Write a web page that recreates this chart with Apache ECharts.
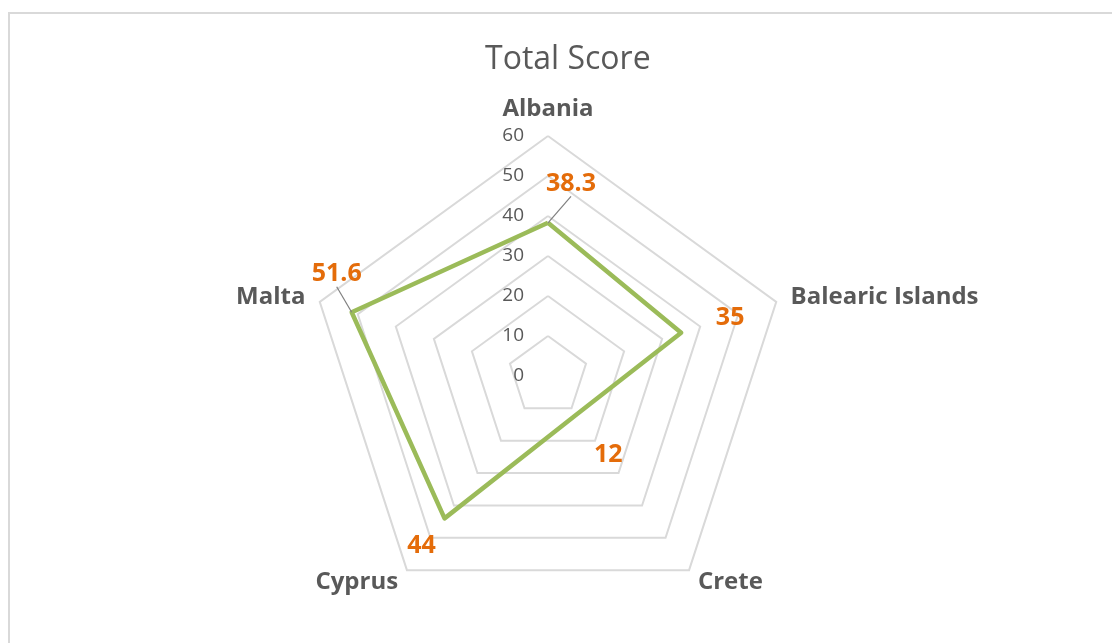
<!DOCTYPE html>
<html>
<head>
<meta charset="utf-8">
<script src="https://cdn.jsdelivr.net/npm/echarts@6.0.0/dist/echarts.min.js"></script>
<style>
html, body { margin: 0; padding: 0; overflow: hidden; background: #ffffff; width: 1112px; height: 643px; }
#frame { position: absolute; left: 8px; top: 12px; width: 1300px; height: 800px; border: 2px solid #D9D9D9; box-sizing: border-box; }
#chart { position: absolute; left: 0; top: 0; width: 1112px; height: 643px; }
</style>
</head>
<body>
<div id="frame"></div>
<div id="chart"></div>
<script>
// ---- data ----
const titleText = 'Total Score';
const categories = ['Albania', 'Balearic Islands', 'Crete', 'Cyprus', 'Malta'];
const scores = [38.3, 35, 12, 44, 51.6];
const tickMin = 0;
const tickMax = 60;
const tickStep = 10;

// ---- styles ----
const FONT = '"Open Sans", "DejaVu Sans", sans-serif';
const TEXT_GRAY = '#595959';
const GRID_GRAY = '#D9D9D9';
const LINE_GREEN = '#9BBB59';
const LABEL_ORANGE = '#E46C0A';
// label offsets (px) relative to each point, in category order
const labelOffsets = [[23, -39], [49, -15], [32, 40], [-23, 27], [-15, -38]];
const showLeader = [true, false, false, false, true];

// ECharts radar runs counter-clockwise; lay categories out clockwise from the top.
const order = [0].concat(categories.map((c, i) => i).slice(1).reverse());

const chart = echarts.init(document.getElementById('chart'), null, { renderer: 'canvas' });

const indicator = order.map((ci, k) => {
  const ind = { name: categories[ci], min: tickMin, max: tickMax };
  if (k === 0) {
    ind.axisLabel = {
      show: true,
      color: TEXT_GRAY,
      fontFamily: FONT,
      fontSize: 19,
      margin: 24,
      showMinLabel: true,
      showMaxLabel: true
    };
  }
  return ind;
});
const values = order.map(ci => scores[ci]);

const labelSeries = order.map((ci, k) => {
  const off = labelOffsets[ci];
  return {
    type: 'radar',
    silent: true,
    z: 4,
    symbol: 'circle',
    symbolSize: 0.01,
    itemStyle: { color: 'rgba(0,0,0,0)' },
    lineStyle: { width: 0, opacity: 0 },
    labelLayout: function (p) {
      if (p.text === '' || p.text == null) {
        return { x: p.rect.x, y: p.rect.y, align: 'center', verticalAlign: 'middle' };
      }
      return { dx: off[0], dy: off[1] };
    },
    data: [{
      value: values.map((s, j) => (j === k ? s : '-')),
      label: {
        show: true,
        position: 'inside',
        color: LABEL_ORANGE,
        fontFamily: FONT,
        fontWeight: 'bold',
        fontSize: 25
      },
      labelLine: { show: showLeader[ci], lineStyle: { color: '#7F7F7F', width: 1.2 } }
    }]
  };
});

const option = {
  animation: false,
  backgroundColor: 'transparent',
  title: {
    text: titleText,
    left: 480,
    top: 39,
    textStyle: { color: TEXT_GRAY, fontFamily: FONT, fontWeight: 'normal', fontSize: 32 }
  },
  radar: {
    center: [548, 376],
    radius: 240,
    startAngle: 90,
    shape: 'polygon',
    splitNumber: (tickMax - tickMin) / tickStep,
    nameGap: 15,
    axisName: { color: TEXT_GRAY, fontFamily: FONT, fontWeight: 'bold', fontSize: 24 },
    axisLine: { show: false },
    axisTick: { show: false },
    axisLabel: { show: false },
    splitLine: { show: true, lineStyle: { color: GRID_GRAY, width: 2 } },
    splitArea: { show: false },
    indicator: indicator
  },
  series: [{
    type: 'radar',
    z: 3,
    symbol: 'none',
    lineStyle: { color: LINE_GREEN, width: 4.5, join: 'round' },
    itemStyle: { color: LINE_GREEN },
    data: [{ value: values, name: titleText }]
  }].concat(labelSeries)
};

chart.setOption(option);
</script>
</body>
</html>
